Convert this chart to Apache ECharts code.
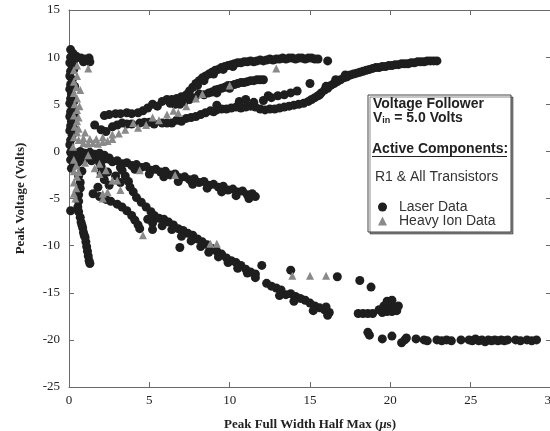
<!DOCTYPE html>
<html>
<head>
<meta charset="utf-8">
<script src="https://cdn.jsdelivr.net/npm/echarts@6/dist/echarts.min.js"></script>
<style>
  html, body { margin: 0; padding: 0; background: #fff; }
  #chart { width: 550px; height: 431px; }
</style>
</head>
<body>
<div id="chart"></div>
<script>
// tick values of the two axes
const xTicks = [0, 5, 10, 15, 20, 25, 30];
const yTicks = [-25, -20, -15, -10, -5, 0, 5, 10, 15];

// laser data
const laserStem = [[0.10,10.8],[0.25,10.4],[0.45,10.1],[0.75,9.9],[1.00,9.8],[1.25,9.9],[1.30,9.5],[0.90,9.5],[0.10,10.0],[0.05,9.4],[0.20,9.0],[0.10,8.5],[0.05,8.0],[0.20,7.6],[0.10,7.1],[0.05,6.6],[0.15,6.1],[0.10,5.6],[0.05,5.1],[0.20,4.7],[0.10,4.2],[0.05,3.7],[0.15,3.2],[0.10,2.7],[0.05,2.2],[0.20,1.7],[0.10,1.2],[0.05,0.7],[0.30,8.7],[0.35,6.9],[0.30,5.3],[0.35,3.9],[0.30,2.4],[0.30,9.6],[0.10,-0.9],[0.30,-1.4],[0.15,-1.8],[0.55,-1.2]];
const laserBase = [[0.1,-0.1],[0.4,-0.2],[0.7,0.0],[1.0,-0.2],[1.3,-0.1],[1.6,-0.3],[1.9,-0.2],[2.2,-0.4],[0.3,-0.6],[0.6,-0.5],[0.9,-0.7],[1.2,-0.6],[1.5,-0.7],[1.8,-0.8],[2.1,-0.9],[2.5,-0.7]];
const laserUpperNeg = [[2.4,-0.8],[2.7,-1.1],[3.0,-1.0],[3.3,-1.3],[3.6,-1.2],[3.9,-1.5],[4.2,-1.4],[4.5,-1.7],[4.8,-1.6],[5.1,-2.0],[5.4,-1.9],[5.7,-2.2],[6.0,-2.1],[6.3,-2.5],[6.6,-2.4],[6.9,-2.8],[7.2,-2.7],[7.5,-3.0],[7.8,-2.9],[8.1,-3.3],[8.4,-3.2],[8.7,-3.6],[9.0,-3.5],[9.3,-3.8],[9.6,-3.7],[9.9,-4.1],[10.2,-4.0],[10.5,-4.3],[10.8,-4.2],[11.1,-4.6],[11.4,-4.5],[11.6,-4.8],[3.2,-1.7],[4.1,-1.9],[5.0,-2.4],[5.9,-2.7],[6.8,-3.2],[7.7,-3.5],[8.6,-3.9],[9.5,-4.3],[10.4,-4.7],[11.2,-5.0],[0.9,-0.9],[1.4,-1.0],[1.9,-1.2]];
const laserLowerNeg = [[3.3,-2.0],[3.5,-2.6],[3.7,-3.2],[3.8,-3.8],[4.0,-4.3],[4.2,-4.9],[4.5,-5.4],[4.8,-5.9],[5.1,-6.4],[5.3,-6.8],[5.6,-7.1],[5.9,-7.2],[6.2,-7.5],[6.5,-7.8],[6.8,-8.2],[7.1,-8.4],[7.4,-8.7],[7.7,-8.9],[8.0,-9.3],[8.3,-9.6],[8.6,-9.9],[8.9,-10.3],[9.2,-10.6],[9.5,-10.9],[9.8,-11.3],[10.1,-11.6],[10.4,-11.8],[10.7,-12.1],[11.0,-12.5],[11.3,-12.8],[11.6,-13.0],[12.0,-12.1],[12.3,-14.0],[12.6,-14.3],[12.9,-14.5],[13.2,-14.7],[13.5,-15.2],[13.8,-15.1],[14.1,-15.4],[14.4,-15.6],[14.7,-15.8],[15.0,-16.1],[15.3,-16.4],[15.6,-16.6],[15.9,-16.8],[16.2,-17.1],[4.9,-7.2],[5.2,-7.6],[5.2,-8.3],[5.8,-7.9],[6.4,-8.3],[7.0,-9.0],[7.6,-9.5],[8.2,-10.1],[8.7,-10.7],[9.3,-11.2],[9.9,-11.8],[10.5,-12.4],[11.1,-12.9],[11.6,-13.4],[6.9,-10.2],[13.1,-15.3],[14.0,-15.9],[15.2,-16.9],[16.1,-17.4],[16.0,-16.5]];
const laserOuterNeg = [[1.5,-4.5],[1.9,-4.8],[2.3,-5.1],[2.6,-5.3],[3.0,-5.6],[3.3,-5.9],[3.6,-6.3],[3.9,-6.8],[4.1,-7.3],[4.3,-7.8],[4.4,-8.2],[2.0,-2.3],[2.2,-3.0],[2.5,-3.6],[1.8,-3.8],[2.0,-1.6],[2.4,-2.2],[2.9,-2.6],[3.2,-3.3]];
const laserSteep = [[0.6,-2.6],[0.7,-3.3],[0.7,-3.9],[0.6,-4.6],[0.6,-5.3],[0.55,-5.9],[0.6,-6.4],[0.7,-7.0],[0.75,-7.5],[0.8,-7.8],[0.85,-8.1],[0.9,-8.6],[0.95,-8.9],[1.0,-9.1],[1.05,-9.6],[1.1,-10.1],[1.15,-10.6],[1.2,-11.1],[1.25,-11.6],[1.3,-11.9],[0.1,-6.3],[0.8,-2.1]];
const laserTail = [[13.8,-12.6],[16.7,-13.3],[18.1,-13.7],[18.8,-14.4],[18.0,-17.2],[18.3,-17.2],[18.6,-17.2],[18.9,-17.2],[19.3,-16.8],[19.6,-16.4],[19.9,-16.2],[20.2,-16.5],[19.5,-17.1],[19.8,-17.0],[20.1,-17.0],[20.4,-16.9],[19.8,-15.9],[20.1,-15.8],[20.5,-16.4],[18.6,-19.2],[18.7,-19.5],[19.5,-19.9],[20.1,-19.6],[20.7,-20.3],[20.9,-20.0]];
const laserFlat = [[21.0,-19.8],[21.6,-19.9],[22.1,-20.0],[22.3,-20.1],[22.9,-20.0],[23.2,-20.1],[23.5,-20.0],[23.8,-20.1],[24.4,-20.0],[24.9,-20.0],[25.1,-20.1],[25.3,-19.9],[25.5,-20.1],[25.7,-20.0],[25.9,-20.2],[26.1,-20.0],[26.3,-20.1],[26.5,-20.0],[26.7,-20.1],[26.9,-20.0],[27.1,-20.1],[27.3,-20.0],[27.8,-20.0],[28.1,-20.1],[28.5,-20.0],[28.8,-20.1],[29.1,-20.0]];
const laserTop = [[2.2,3.8],[2.5,3.9],[2.9,4.0],[3.2,4.0],[3.6,4.1],[3.9,4.0],[4.3,4.1],[4.6,4.3],[4.9,4.6],[5.2,5.0],[5.5,4.8],[5.8,5.3],[6.1,5.5],[6.4,5.5],[6.7,5.6],[7.0,5.8],[7.3,6.0],[7.5,6.4],[7.7,6.8],[7.9,7.2],[8.1,7.5],[8.3,7.8],[8.5,8.0],[8.7,8.2],[8.9,8.4],[9.1,8.6],[9.3,8.7],[9.5,8.9],[9.7,9.0],[9.9,9.1],[10.1,9.2],[10.3,9.3],[10.5,9.4],[10.7,9.4],[10.9,9.5],[11.1,9.5],[11.3,9.6],[11.5,9.5],[11.7,9.6],[11.9,9.7],[12.1,9.6],[12.3,9.7],[12.5,9.8],[12.7,9.7],[12.9,9.8],[13.1,9.8],[13.3,9.9],[13.5,9.8],[13.7,9.9],[13.9,9.9],[14.1,9.8],[14.3,9.9],[14.5,9.9],[14.7,9.8],[14.9,9.9],[15.1,9.9],[15.3,9.8],[15.5,9.8],[16.1,9.6],[9.0,8.2],[9.6,8.7],[10.2,9.0],[8.0,7.0],[8.4,7.5]];
const laserMiddle = [[6.3,5.1],[6.6,5.0],[6.9,5.0],[7.2,5.3],[7.5,5.5],[7.8,5.7],[8.1,6.1],[8.4,6.0],[8.7,6.2],[8.9,6.3],[9.1,6.5],[9.3,6.6],[9.5,6.7],[9.7,6.8],[9.9,7.0],[10.1,7.0],[10.3,7.1],[10.5,7.2],[10.7,7.3],[10.9,7.3],[11.1,7.4],[11.3,7.5],[11.5,7.5],[11.7,7.6],[11.9,7.6],[12.1,7.6],[9.2,6.2],[10.0,6.7]];
const laserLower = [[1.6,2.8],[2.0,2.3],[2.3,2.1],[2.7,2.6],[3.0,2.8],[3.3,3.0],[3.6,2.9],[3.9,2.9],[4.4,3.0],[4.7,3.1],[5.0,3.1],[5.3,2.9],[5.8,3.0],[6.1,3.0],[6.4,3.0],[6.7,3.3],[7.0,3.2],[7.3,3.5],[7.6,3.6],[7.9,3.7],[8.2,3.9],[8.5,4.1],[8.8,4.3],[9.0,4.2],[9.2,4.4],[9.2,4.9],[9.5,4.5],[9.8,4.5],[10.1,4.6],[10.4,4.7],[10.7,4.6],[11.0,4.7],[11.3,4.8],[11.6,4.7],[11.9,4.5],[12.2,4.4],[12.5,4.5],[12.8,4.5],[13.1,4.6],[13.4,4.7],[13.7,4.8],[14.0,4.9],[14.3,5.0],[14.6,5.1],[14.9,5.3],[15.1,5.5],[15.3,5.7],[15.5,5.9],[15.7,6.2],[15.9,6.5],[16.1,6.7],[16.3,7.0],[16.5,7.2],[16.7,7.4],[16.9,7.6],[17.1,7.8],[17.3,7.9],[17.5,8.1],[17.7,8.2],[17.9,8.3],[18.1,8.4],[18.3,8.5],[18.5,8.6],[18.7,8.7],[18.9,8.8],[19.1,8.9],[19.3,8.9],[19.5,9.0],[19.7,9.0],[19.9,9.1],[20.1,9.1],[20.3,9.2],[20.5,9.2],[20.7,9.3],[20.9,9.3],[21.1,9.3],[21.3,9.4],[21.5,9.4],[21.7,9.5],[21.9,9.5],[22.1,9.5],[22.3,9.6],[22.5,9.6],[22.7,9.6],[22.9,9.6],[16.0,6.9],[16.6,7.6],[17.2,8.1],[15.6,6.0]];
const laserDashes = [[10.6,5.3],[11.0,5.5],[11.5,5.2],[12.1,5.4],[12.6,5.7],[13.0,5.9],[13.4,6.0],[13.8,6.2],[14.2,6.4],[15.0,7.2],[12.4,5.9]];

// heavy ion data
const ionStem = [[0.5,9.1],[1.2,8.8],[0.3,8.6],[0.5,8.0],[0.3,7.4],[0.45,6.8],[0.3,6.2],[0.5,5.6],[0.35,5.0],[0.5,4.4],[0.3,3.8],[0.5,3.2],[0.35,2.6],[0.5,2.0],[0.3,1.5],[0.6,1.2],[0.25,0.5],[0.3,-0.9],[0.45,-1.5],[0.3,-2.1],[0.5,-2.7],[0.3,-3.3],[0.45,-3.9],[0.3,-4.5],[0.4,-5.0],[0.6,-2.2],[0.65,4.8],[0.7,6.5],[0.6,3.6],[0.6,2.4]];
const ionBand = [[0.9,0.9],[1.2,0.8],[1.5,0.9],[1.8,0.8],[2.1,1.0],[2.4,1.1],[2.7,1.3],[0.9,1.4],[1.3,1.3],[1.7,1.3],[2.1,1.5],[1.0,2.0],[1.2,-0.4],[1.9,-1.3]];
const ionRise = [[2.7,1.8],[3.1,1.9],[3.5,2.3],[4.0,3.0],[4.3,2.5],[4.8,2.8],[5.2,3.6],[5.6,3.3],[6.1,3.9],[6.5,4.3],[6.8,4.1],[7.3,4.8],[7.9,5.6],[8.3,6.1],[10.0,7.0],[12.9,8.8]];
const ionNeg = [[1.9,-2.4],[2.7,-3.1],[2.1,-4.5],[3.0,-3.1],[3.2,-4.1],[2.1,-5.0],[2.4,-4.3],[4.4,-2.0],[6.6,-2.5],[4.6,-8.9],[8.8,-9.8],[9.2,-9.8],[13.9,-13.2],[15.0,-13.2],[16.0,-13.2],[1.6,-1.8],[2.3,-2.0],[1.0,-1.2]];

const laserData = [].concat(laserStem, laserBase, laserUpperNeg, laserLowerNeg, laserOuterNeg,
  laserSteep, laserTail, laserFlat, laserTop, laserMiddle, laserLower, laserDashes);
const ionData = [].concat(ionStem, ionBand, ionRise, ionNeg);

const serif = '"Liberation Serif", "Times New Roman", serif';
const sans = '"Liberation Sans", Arial, Helvetica, sans-serif';
const frame = '#6a6a6a';

function axisBase(ticks, extra) {
  return Object.assign({
    type: 'value',
    min: ticks[0],
    max: ticks[ticks.length - 1],
    interval: ticks[1] - ticks[0],
    splitLine: { show: false },
    axisLine: { show: true, onZero: false, lineStyle: { color: frame, width: 1 } },
    axisTick: { show: true, inside: true, length: 5, lineStyle: { color: frame } },
    axisLabel: { show: false }
  }, extra);
}

const labelStyle = { show: true, fontFamily: serif, fontSize: 13, color: '#222' };
const nameStyle = { fontFamily: serif, fontSize: 13, fontWeight: 'bold', color: '#222' };

const chart = echarts.init(document.getElementById('chart'));

chart.setOption({
  animation: false,
  backgroundColor: '#fff',
  grid: { left: 69, top: 10, width: 482, height: 377, containLabel: false, outerBoundsMode: 'none' },
  xAxis: [
    axisBase(xTicks, {
      position: 'bottom',
      axisLabel: Object.assign({ margin: 7 }, labelStyle),
      name: '{a|Peak Full Width Half Max (}{m|μ}{a|s)}',
      nameLocation: 'middle',
      nameGap: 31,
      nameTextStyle: {
        rich: {
          a: nameStyle,
          m: Object.assign({}, nameStyle, { fontStyle: 'italic' })
        }
      }
    }),
    axisBase(xTicks, { position: 'top' })
  ],
  yAxis: [
    axisBase(yTicks, {
      position: 'left',
      axisLabel: Object.assign({ margin: 9 }, labelStyle),
      name: 'Peak Voltage (Volts)',
      nameLocation: 'middle',
      nameGap: 42,
      nameTextStyle: nameStyle
    }),
    axisBase(yTicks, { position: 'right' })
  ],
  legend: {
    orient: 'vertical',
    left: 378,
    top: 200,
    padding: 0,
    itemGap: 0,
    itemWidth: 9,
    itemHeight: 9,
    z: 20,
    data: ['Laser Data', 'Heavy Ion Data'],
    textStyle: { fontFamily: sans, fontSize: 14, color: '#333', lineHeight: 13, padding: [0, 0, 0, 7] }
  },
  graphic: [
    {
      type: 'rect', z: 15,
      shape: { x: 368, y: 95, width: 143, height: 137 },
      style: { fill: '#fff', stroke: '#444', lineWidth: 1, shadowColor: 'rgba(0,0,0,0.45)', shadowOffsetX: 2, shadowOffsetY: 2, shadowBlur: 0 }
    },
    {
      type: 'text', z: 21, x: 373, y: 104,
      style: { text: 'Voltage Follower', fontFamily: sans, fontSize: 14, fontWeight: 'bold', fill: '#222', verticalAlign: 'middle' }
    },
    {
      type: 'text', z: 21, x: 373, y: 118,
      style: {
        text: '{a|V}{s|in}{a| = 5.0 Volts}',
        verticalAlign: 'middle',
        rich: {
          a: { fontFamily: sans, fontSize: 14, fontWeight: 'bold', fill: '#222' },
          s: { fontFamily: sans, fontSize: 9, fontWeight: 'bold', fill: '#222', padding: [6, 0, 0, 0] }
        }
      }
    },
    {
      type: 'text', z: 21, x: 372, y: 149,
      style: { text: 'Active Components:', fontFamily: sans, fontSize: 14, fontWeight: 'bold', fill: '#222', verticalAlign: 'middle' }
    },
    {
      type: 'line', z: 21,
      shape: { x1: 372, y1: 156.5, x2: 507, y2: 156.5 },
      style: { stroke: '#222', lineWidth: 1 }
    },
    {
      type: 'text', z: 21, x: 375, y: 177,
      style: { text: 'R1 & All Transistors', fontFamily: sans, fontSize: 14, fill: '#333', verticalAlign: 'middle' }
    }
  ],
  series: [
    {
      name: 'Laser Data',
      type: 'scatter',
      symbol: 'circle',
      symbolSize: 9,
      itemStyle: { color: '#1e1e1e', opacity: 1 },
      data: laserData
    },
    {
      name: 'Heavy Ion Data',
      type: 'scatter',
      symbol: 'triangle',
      symbolSize: 8,
      itemStyle: { color: '#8a8a8a', opacity: 1 },
      data: ionData
    }
  ]
});
</script>
</body>
</html>
